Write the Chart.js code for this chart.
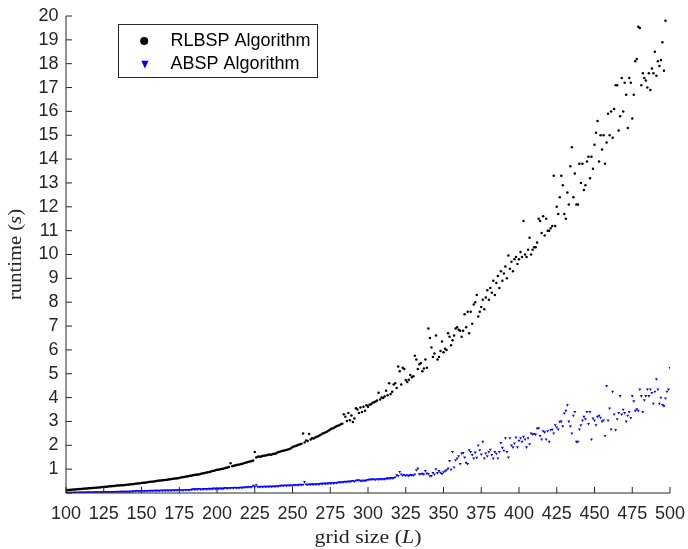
<!DOCTYPE html>
<html>
<head>
<meta charset="utf-8">
<script src="https://cdn.jsdelivr.net/npm/chart.js@4.4.1/dist/chart.umd.min.js"></script>
<style>
html,body{margin:0;padding:0;background:#fff;}
#wrap{width:688px;height:549px;position:relative;}
canvas{display:block;}
</style>
</head>
<body>
<div id="wrap"><canvas id="c" width="688" height="549"></canvas></div>
<script>
// ---------- data ----------
const xStart = 100, xEnd = 500;           // grid sizes L = 100..500, step 1
const xStep = 25;                          // x tick spacing
const yMin = 0, yMax = 20, yStep = 1;      // y axis range
const seriesNames = ['RLBSP Algorithm', 'ABSP Algorithm'];
const xTitleParts = [['grid size (', false], ['L', true], [')', false]];
const yTitleParts = [['runtime (', false], ['s', true], [')', false]];

// RLBSP runtime (s), one value per grid size 100..500
const rlbsp = [
0.12,0.13,0.13,0.14,0.14,0.15,0.15,0.16,0.16,0.17,
0.17,0.18,0.18,0.19,0.19,0.20,0.20,0.21,0.21,0.22,
0.22,0.23,0.23,0.24,0.25,0.25,0.26,0.26,0.27,0.28,
0.28,0.29,0.29,0.30,0.31,0.31,0.32,0.33,0.33,0.34,
0.35,0.35,0.36,0.37,0.37,0.38,0.39,0.40,0.40,0.41,
0.42,0.43,0.43,0.44,0.45,0.46,0.47,0.47,0.48,0.49,
0.50,0.51,0.52,0.52,0.53,0.54,0.55,0.56,0.57,0.58,
0.59,0.60,0.61,0.61,0.62,0.63,0.65,0.66,0.67,0.68,
0.69,0.70,0.72,0.72,0.74,0.75,0.76,0.78,0.78,0.80,
0.82,0.83,0.84,0.86,0.87,0.88,0.90,0.92,0.93,0.95,
0.97,0.98,1.00,1.01,1.02,1.04,1.06,1.07,1.09,1.25,
1.12,1.14,1.15,1.17,1.18,1.20,1.22,1.23,1.26,1.27,
1.29,1.31,1.32,1.34,1.36,1.72,1.49,1.52,1.53,1.52,
1.55,1.56,1.57,1.58,1.60,1.61,1.60,1.63,1.65,1.66,
1.70,1.72,1.74,1.76,1.77,1.79,1.80,1.82,1.84,1.88,
1.93,1.95,1.97,1.99,2.02,2.04,2.07,2.50,2.12,2.20,
2.18,2.47,2.24,2.30,2.28,2.33,2.36,2.38,2.42,2.45,
2.50,2.52,2.55,2.58,2.62,2.66,2.70,2.72,2.76,2.80,
2.82,2.84,2.88,2.90,3.30,3.20,3.02,3.35,3.05,3.25,
2.98,3.12,3.55,3.50,3.35,3.58,3.40,3.62,3.45,3.68,
3.62,3.70,3.72,3.78,3.80,3.84,3.88,4.20,3.92,4.00,
3.98,4.05,4.29,4.10,4.60,4.15,4.25,4.55,4.60,4.40,
5.30,5.10,4.55,5.25,5.20,4.74,4.65,4.75,4.95,4.85,
4.90,5.75,5.60,5.20,5.40,5.45,5.10,5.22,5.60,5.25,
6.90,6.50,6.10,5.70,5.85,6.60,5.60,5.70,5.95,6.35,
5.90,6.05,6.00,6.70,6.55,6.20,6.40,6.60,6.90,6.95,
6.85,6.80,6.55,6.80,7.50,6.95,7.60,6.70,7.60,7.10,
7.90,8.00,8.30,7.40,7.60,7.80,8.10,7.70,8.20,8.50,
8.10,8.60,8.40,8.90,8.30,8.80,9.10,8.60,9.30,8.90,
9.20,9.50,9.00,9.96,9.40,9.70,9.30,9.80,9.90,9.60,
9.80,10.10,9.90,11.40,10.00,9.90,10.20,10.70,10.00,10.20,
10.30,10.30,10.50,11.50,11.40,10.90,11.60,10.80,11.50,11.00,
11.00,11.10,11.20,13.30,11.20,12.00,11.70,12.40,13.30,12.90,
11.70,11.50,12.60,12.10,13.70,14.50,12.40,13.40,12.10,12.10,
13.80,13.00,13.80,12.70,12.90,13.90,14.10,13.20,14.10,13.60,
14.60,15.10,15.60,13.90,15.00,14.40,15.00,13.80,14.70,15.90,
15.00,16.00,14.90,16.10,17.10,17.10,15.20,15.80,17.40,16.00,
17.20,16.70,15.30,17.40,17.20,15.70,16.70,18.10,18.20,19.55,
19.50,17.10,17.60,17.40,17.30,17.00,17.60,16.90,17.80,17.60,
18.50,17.50,18.10,17.90,18.15,18.90,17.70,19.80,null,null,
null
];

// ABSP runtime (s), one value per grid size 100..500
const absp = [
0.02,0.02,0.02,0.02,0.02,0.02,0.03,0.02,0.02,0.03,
0.03,0.03,0.03,0.03,0.03,0.04,0.03,0.03,0.04,0.04,
0.04,0.04,0.04,0.04,0.05,0.04,0.05,0.05,0.05,0.05,
0.05,0.05,0.05,0.05,0.06,0.05,0.06,0.06,0.06,0.06,
0.06,0.06,0.06,0.07,0.07,0.08,0.08,0.09,0.08,0.08,
0.09,0.08,0.09,0.09,0.09,0.09,0.10,0.09,0.10,0.10,
0.10,0.10,0.10,0.11,0.10,0.11,0.11,0.11,0.11,0.11,
0.11,0.12,0.11,0.12,0.12,0.12,0.12,0.12,0.12,0.13,
0.13,0.13,0.13,0.14,0.16,0.16,0.16,0.16,0.17,0.16,
0.16,0.17,0.17,0.17,0.17,0.18,0.17,0.18,0.19,0.18,
0.18,0.18,0.19,0.19,0.18,0.22,0.21,0.21,0.21,0.22,
0.22,0.22,0.23,0.22,0.22,0.23,0.23,0.23,0.24,0.25,
0.25,0.26,0.25,0.26,0.31,0.27,0.33,0.26,0.26,0.27,
0.26,0.27,0.27,0.27,0.27,0.28,0.27,0.28,0.28,0.28,
0.29,0.29,0.31,0.31,0.31,0.32,0.31,0.32,0.32,0.32,
0.32,0.33,0.34,0.33,0.34,0.35,0.34,0.35,0.47,0.36,
0.35,0.36,0.36,0.37,0.37,0.36,0.38,0.37,0.38,0.39,
0.39,0.40,0.39,0.40,0.41,0.41,0.42,0.41,0.43,0.43,
0.44,0.46,0.45,0.47,0.46,0.48,0.47,0.49,0.48,0.50,
0.51,0.49,0.52,0.54,0.53,0.52,0.50,0.53,0.51,0.54,
0.55,0.57,0.56,0.58,0.57,0.56,0.58,0.57,0.59,0.58,
0.58,0.59,0.60,0.62,0.61,0.63,0.62,0.64,0.66,0.75,
0.72,0.89,0.78,0.74,0.76,0.73,0.75,0.72,0.76,0.75,
0.74,0.78,0.96,1.03,0.79,0.80,0.81,0.78,0.93,0.82,
0.80,0.71,0.72,0.85,0.78,1.00,0.84,0.93,0.86,0.80,
0.88,0.92,0.96,1.03,1.35,0.98,1.73,1.08,1.38,1.45,
1.55,1.22,1.66,1.68,1.50,1.27,1.22,1.80,1.73,1.60,
1.45,1.70,1.48,2.00,1.80,1.62,2.15,1.45,1.66,1.55,
1.73,1.82,1.60,1.45,1.73,1.65,1.45,1.73,2.10,1.90,
1.78,2.30,1.73,1.50,2.30,2.00,1.92,2.08,2.33,1.92,
2.20,2.30,2.15,2.36,2.25,1.92,2.30,2.05,2.50,2.46,
2.48,2.46,2.71,2.72,2.40,2.25,2.60,2.55,2.25,2.60,
2.15,2.65,2.66,2.50,2.85,2.75,2.67,2.99,3.00,2.80,
3.34,3.45,3.69,3.00,2.80,2.50,3.25,3.40,2.15,2.15,
2.67,2.85,3.05,3.20,3.10,3.40,2.90,3.40,2.25,3.13,
3.05,2.85,3.20,3.25,3.16,3.00,3.05,2.40,4.49,3.05,
3.55,2.67,4.25,3.30,2.65,3.10,3.36,4.07,3.30,3.50,
3.36,3.00,3.25,3.40,3.15,4.07,3.85,3.45,3.52,3.45,
4.35,4.07,3.40,3.90,4.07,4.35,4.07,4.35,4.20,3.75,
4.25,4.78,4.35,3.75,4.00,3.70,3.65,3.97,4.25,4.35,
5.25
];

// grid sizes (categories)
const gridSizes = [];
for (let L = xStart; L <= xEnd; L++) gridSizes.push(L);

// ---------- styles ----------
const SANS = '"Liberation Sans", Arial, Helvetica, sans-serif';
const SERIF = '"Liberation Serif", "Times New Roman", serif';
const AXIS_COLOR = '#262626';

function toPoints(vals) {
  return gridSizes.map((L, i) => ({ x: L, y: vals[i] }));
}

function drawMixed(ctx, parts, size, targetW) {
  const fonts = parts.map(p => (p[1] ? 'italic ' : '') + size + 'px ' + SERIF);
  const widths = parts.map((p, i) => { ctx.font = fonts[i]; return ctx.measureText(p[0]).width; });
  const total = widths.reduce((s, w) => s + w, 0);
  ctx.scale(targetW / total, 1);
  let xx = -total / 2;
  ctx.textAlign = 'left';
  ctx.textBaseline = 'alphabetic';
  parts.forEach((p, i) => { ctx.font = fonts[i]; ctx.fillText(p[0], xx, 0); xx += widths[i]; });
}

const decor = {
  id: 'decor',
  afterDraw(chart) {
    const { ctx, chartArea: a, scales } = chart;
    const xs = scales.x, ys = scales.y;
    ctx.save();
    // axes + inward ticks
    ctx.strokeStyle = AXIS_COLOR;
    ctx.lineWidth = 1;
    ctx.beginPath();
    ctx.moveTo(a.left, a.top);
    ctx.lineTo(a.left, a.bottom);
    ctx.lineTo(a.right, a.bottom);
    xs.ticks.forEach(t => {
      const p = xs.getPixelForValue(t.value);
      ctx.moveTo(p, a.bottom); ctx.lineTo(p, a.bottom - 6);
    });
    ys.ticks.forEach(t => {
      const p = ys.getPixelForValue(t.value);
      ctx.moveTo(a.left, p); ctx.lineTo(a.left + 6, p);
    });
    ctx.stroke();
    ctx.restore();

    // axis titles
    ctx.save();
    ctx.fillStyle = AXIS_COLOR;
    ctx.translate((a.left + a.right) / 2, 543);
    drawMixed(ctx, xTitleParts, 18, 107);
    ctx.restore();

    ctx.save();
    ctx.fillStyle = AXIS_COLOR;
    ctx.translate(21, (a.top + a.bottom) / 2);
    ctx.rotate(-Math.PI / 2);
    drawMixed(ctx, yTitleParts, 18, 91);
    ctx.restore();

    // legend
    const ds = chart.data.datasets;
    ctx.save();
    ctx.fillStyle = '#fff';
    ctx.fillRect(118.5, 24.5, 199, 53);
    ctx.strokeStyle = AXIS_COLOR;
    ctx.lineWidth = 1;
    ctx.strokeRect(118.5, 24.5, 199, 53);
    ctx.fillStyle = ds[0].backgroundColor;
    ctx.beginPath(); ctx.arc(144.2, 41, 4, 0, Math.PI * 2); ctx.fill();
    ctx.fillStyle = ds[1].backgroundColor;
    ctx.beginPath();
    ctx.moveTo(141.3, 60.8); ctx.lineTo(148.5, 60.8); ctx.lineTo(144.9, 68.6); ctx.closePath(); ctx.fill();
    ctx.fillStyle = '#000';
    ctx.font = '18px ' + SANS;
    ctx.textAlign = 'left';
    ctx.textBaseline = 'middle';
    ctx.fillText(ds[0].label, 170.5, 41.5);
    ctx.fillText(ds[1].label, 170.5, 64.5);
    ctx.restore();
  }
};

new Chart(document.getElementById('c'), {
  type: 'scatter',
  data: {
    datasets: [
      {
        label: seriesNames[0],
        data: toPoints(rlbsp),
        backgroundColor: '#000000',
        borderWidth: 0,
        pointStyle: 'circle',
        pointRadius: 1.25,
        pointHoverRadius: 1.25
      },
      {
        label: seriesNames[1],
        data: toPoints(absp),
        backgroundColor: '#0000ff',
        borderWidth: 0,
        pointStyle: 'triangle',
        rotation: 180,
        pointRadius: 1.7,
        pointHoverRadius: 1.7
      }
    ]
  },
  options: {
    responsive: false,
    animation: false,
    devicePixelRatio: 1,
    events: [],
    layout: { padding: 0 },
    plugins: { legend: { display: false }, tooltip: { enabled: false } },
    scales: {
      x: {
        type: 'linear',
        min: xStart, max: xEnd,
        grid: { display: false, drawTicks: false },
        border: { display: false },
        ticks: {
          stepSize: xStep, autoSkip: false, maxRotation: 0, minRotation: 0,
          padding: 10.7, color: AXIS_COLOR,
          font: { family: SANS, size: 18 }
        },
        afterFit(s) { s.height = 56; s.paddingLeft = 0; s.paddingRight = 18; s.paddingTop = 0; s.paddingBottom = 0; }
      },
      y: {
        type: 'linear',
        min: yMin, max: yMax,
        grid: { display: false, drawTicks: false },
        border: { display: false },
        ticks: {
          stepSize: yStep, autoSkip: false, padding: 7.5, color: AXIS_COLOR,
          font: { family: SANS, size: 18 },
          callback: v => (v === 0 ? '' : String(v))
        },
        afterFit(s) { s.width = 66; s.paddingTop = 16; s.paddingBottom = 0; s.paddingLeft = 0; s.paddingRight = 0; }
      }
    }
  },
  plugins: [decor]
});
</script>
</body>
</html>
